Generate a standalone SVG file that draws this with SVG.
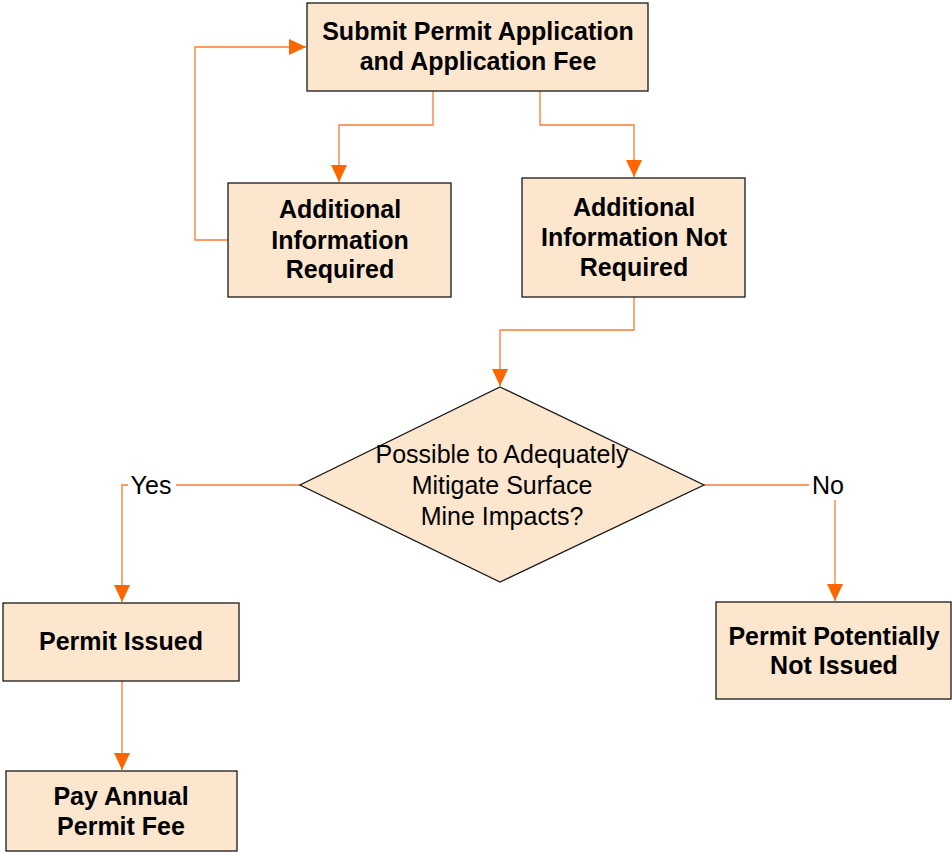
<svg xmlns="http://www.w3.org/2000/svg" width="952" height="852" viewBox="0 0 952 852">
<style>
.box{fill:#FDE6CE;stroke:#1a1a1a;stroke-width:1.3}
.t{font-family:"Liberation Sans",Arial,sans-serif;font-size:25px;font-weight:bold;fill:#000;text-anchor:middle}
.r{font-family:"Liberation Sans",Arial,sans-serif;font-size:25px;fill:#000;text-anchor:middle}
.c{fill:none;stroke:#FF7A30;stroke-width:1.3}
</style>
<defs>
<marker id="ah" markerUnits="userSpaceOnUse" markerWidth="18" markerHeight="18" viewBox="0 0 18 18" refX="17" refY="9" orient="auto">
<path d="M0,1 L17,9 L0,17 Z" fill="#FF6600"/>
</marker>
</defs>
<g id="connectors">
<path class="c" d="M228,240 H195 V47 H306" marker-end="url(#ah)"/>
<path class="c" d="M433,91 V125 H339 V182" marker-end="url(#ah)"/>
<path class="c" d="M540,91 V125 H634 V177" marker-end="url(#ah)"/>
<path class="c" d="M634,297 V330 H500 V386" marker-end="url(#ah)"/>
<path class="c" d="M300,485 H122 V602" marker-end="url(#ah)"/>
<path class="c" d="M704,485 H835 V601" marker-end="url(#ah)"/>
<path class="c" d="M122,681 V770" marker-end="url(#ah)"/>
<rect x="128" y="470" width="48" height="30" fill="#fff"/>
<text class="r" x="151" y="494">Yes</text>
<rect x="809" y="470" width="38" height="30" fill="#fff"/>
<text class="r" x="828" y="494">No</text>
</g>
<g id="submit">
<rect class="box" x="307" y="3" width="341" height="88"/>
<text class="t" x="478" y="40">Submit Permit Application</text>
<text class="t" x="478" y="70">and Application Fee</text>
</g>
<g id="addreq">
<rect class="box" x="228" y="183" width="223" height="114"/>
<text class="t" x="340" y="218">Additional</text>
<text class="t" x="340" y="249">Information</text>
<text class="t" x="340" y="278">Required</text>
</g>
<g id="addnotreq">
<rect class="box" x="522" y="178" width="223" height="119"/>
<text class="t" x="634" y="216">Additional</text>
<text class="t" x="634" y="246">Information Not</text>
<text class="t" x="634" y="276">Required</text>
</g>
<g id="decision">
<polygon class="box" points="500,387 704,485 500,582 300,485"/>
<text class="r" x="502" y="463">Possible to Adequately</text>
<text class="r" x="502" y="494">Mitigate Surface</text>
<text class="r" x="502" y="525">Mine Impacts?</text>
</g>
<g id="issued">
<rect class="box" x="3" y="603" width="236" height="78"/>
<text class="t" x="121" y="650">Permit Issued</text>
</g>
<g id="annual">
<rect class="box" x="6" y="771" width="231" height="80"/>
<text class="t" x="121" y="805">Pay Annual</text>
<text class="t" x="121" y="835">Permit Fee</text>
</g>
<g id="notissued">
<rect class="box" x="716" y="602" width="235" height="97"/>
<text class="t" x="834" y="645">Permit Potentially</text>
<text class="t" x="834" y="674">Not Issued</text>
</g>
</svg>
